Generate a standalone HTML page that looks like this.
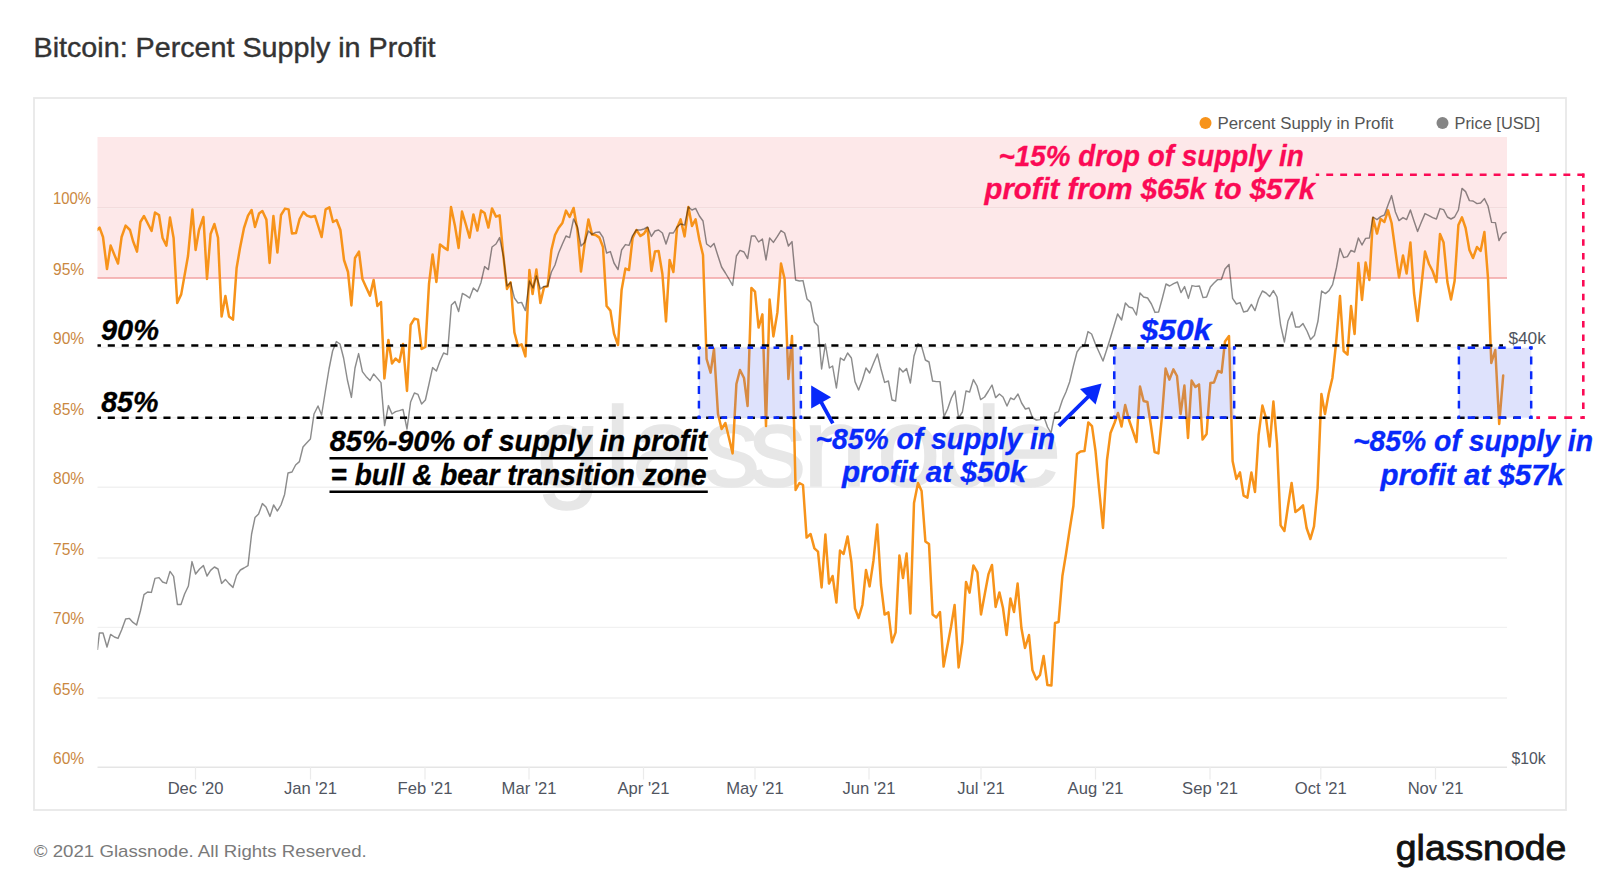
<!DOCTYPE html>
<html lang="en"><head><meta charset="utf-8"><title>Bitcoin: Percent Supply in Profit</title>
<style>html,body{margin:0;padding:0;background:#fff}body{width:1600px;height:882px;position:relative;overflow:hidden;font-family:"Liberation Sans",sans-serif}</style></head>
<body>
<svg width="1600" height="882" viewBox="0 0 1600 882" style="position:absolute;left:0;top:0;font-family:'Liberation Sans', sans-serif">
<defs><clipPath id="plot"><rect x="97.5" y="100" width="1440" height="700"/></clipPath></defs>
<defs><clipPath id="crv"><rect x="1580" y="173.45" width="8" height="246"/></clipPath></defs>
<rect x="34" y="98" width="1532" height="712" fill="#fff" stroke="#e8e8e8" stroke-width="1.8"/>
<rect x="97.5" y="137" width="1409.5" height="141" fill="#fde8e9"/>
<line x1="97.5" x2="1507" y1="207.6" y2="207.6" stroke="#f1f1f1" stroke-width="1.4"/>
<line x1="97.5" x2="1507" y1="347.5" y2="347.5" stroke="#f1f1f1" stroke-width="1.4"/>
<line x1="97.5" x2="1507" y1="417.7" y2="417.7" stroke="#f1f1f1" stroke-width="1.4"/>
<line x1="97.5" x2="1507" y1="487.3" y2="487.3" stroke="#f1f1f1" stroke-width="1.4"/>
<line x1="97.5" x2="1507" y1="558.0" y2="558.0" stroke="#f1f1f1" stroke-width="1.4"/>
<line x1="97.5" x2="1507" y1="627.4" y2="627.4" stroke="#f1f1f1" stroke-width="1.4"/>
<line x1="97.5" x2="1507" y1="698.0" y2="698.0" stroke="#f1f1f1" stroke-width="1.4"/>
<line x1="97.5" x2="1507" y1="207.5" y2="207.5" stroke="#f3dcdd" stroke-width="1.2"/>
<line x1="97.5" x2="1507" y1="767.3" y2="767.3" stroke="#e5e5e5" stroke-width="1.4"/>
<line x1="195.5" x2="195.5" y1="767" y2="779.5" stroke="#ebebeb" stroke-width="1.2"/>
<line x1="310.5" x2="310.5" y1="767" y2="779.5" stroke="#ebebeb" stroke-width="1.2"/>
<line x1="425" x2="425" y1="767" y2="779.5" stroke="#ebebeb" stroke-width="1.2"/>
<line x1="529" x2="529" y1="767" y2="779.5" stroke="#ebebeb" stroke-width="1.2"/>
<line x1="643.5" x2="643.5" y1="767" y2="779.5" stroke="#ebebeb" stroke-width="1.2"/>
<line x1="755" x2="755" y1="767" y2="779.5" stroke="#ebebeb" stroke-width="1.2"/>
<line x1="869" x2="869" y1="767" y2="779.5" stroke="#ebebeb" stroke-width="1.2"/>
<line x1="981" x2="981" y1="767" y2="779.5" stroke="#ebebeb" stroke-width="1.2"/>
<line x1="1095.5" x2="1095.5" y1="767" y2="779.5" stroke="#ebebeb" stroke-width="1.2"/>
<line x1="1210" x2="1210" y1="767" y2="779.5" stroke="#ebebeb" stroke-width="1.2"/>
<line x1="1320.8" x2="1320.8" y1="767" y2="779.5" stroke="#ebebeb" stroke-width="1.2"/>
<line x1="1435.5" x2="1435.5" y1="767" y2="779.5" stroke="#ebebeb" stroke-width="1.2"/>
<text y="486" font-size="114" fill="#e7e7e7" stroke="#e7e7e7" stroke-width="1.6" x="536.5 605 632 703 749 803 877 938 998">glassnode</text>
<line x1="97.5" x2="1507" y1="278" y2="278" stroke="#f2a3a3" stroke-width="1.6"/>
<path d="M97,230 L99.6,227.6 L103,237 L107,269 L110.6,245.6 L118,263.6 L121.6,237 L125.6,225.6 L130,230 L133,241 L137,251.6 L140.4,222 L144,216 L151.6,231 L155,212.6 L159,215 L162.6,238 L166.4,245.6 L170,217.6 L173.6,238 L177.2,303 L181.2,294.4 L188,256 L192.4,209.6 L195.6,250 L199,230 L203.4,217 L207,279 L210.6,234 L214.4,224 L218,237.6 L221.6,316.4 L225.4,296 L229,316.4 L233,319.6 L236.6,268 L240,248 L244,228 L248,215.6 L251.6,210 L255,227 L259,213.6 L262.4,211 L266.4,219.6 L269.6,263 L273.4,216 L277.4,252.6 L281,215 L285,208.6 L288.6,209.4 L292,233.6 L296,233 L299.6,219 L303.4,212 L307,215.6 L311,217 L315,216 L321.6,237 L325.6,209.4 L329.4,207.4 L333,222 L336.6,220 L340.4,230 L344,260 L348,272 L351.4,305.4 L355,258 L359,251.6 L362.4,279 L366,287 L370,295.6 L373.6,280 L377.4,306 L381,302 L384.4,378.4 L388.4,340 L392,363.6 L395.6,358.6 L399.4,362 L403,344 L407,391 L410.6,325 L414.4,318.6 L418,319.6 L421.6,349 L425.4,347 L429,284 L432.6,254.4 L436.4,282 L440,244.4 L444,247.6 L447.6,250 L451,207 L455,226 L458.6,248 L462,211.6 L466,225 L469.6,237.6 L473.4,214.4 L477.4,230.6 L481,210.6 L484.6,213 L488.4,227.6 L492,208.4 L496,216.6 L499.6,215.4 L503.4,256 L507,289 L510.6,282.4 L514.4,332.4 L518,346 L521.6,344.4 L525.4,356.4 L529.4,270 L532.6,294 L536.4,269.6 L540.4,303 L544,287.4 L547.6,286.4 L551.4,250 L555,235 L558.6,228 L562.4,223 L566,210.6 L569.6,217 L573.6,208 L577.4,230 L581,271.6 L584.6,244 L588.4,219.4 L592,234.4 L595.6,235 L599.4,237.6 L603,247 L606.6,306 L610.4,310.6 L614,333.6 L618,345 L621.6,290 L625.4,268.6 L629,270 L632.6,238 L636.4,230 L640.4,236 L644,233.6 L647.6,228 L651.4,271 L655,251.6 L658.6,251 L662.4,274 L666,321.4 L669.6,260 L673.4,272 L677,228 L680.6,219.4 L684.6,236.4 L688.4,207 L692,226 L695.6,219.4 L699.4,240 L703,255 L706.6,359 L710.6,372.6 L714,349 L718,414 L721.6,429 L725.4,423 L729,438 L732.6,453.4 L736.4,384 L740,370 L744,378 L747.6,406 L751.4,288 L755,291.6 L758.6,327.6 L762.4,314.4 L766,426 L769.6,299.6 L773.4,336.4 L777.4,312.4 L781,263.6 L784.6,279 L788.4,379 L792,336 L795.6,490 L799.4,483 L803,485 L806.6,537.6 L810.6,534 L814.4,548.4 L818,551.6 L821.6,587.4 L825.4,534.6 L829,583.6 L832.6,576 L836.4,602.6 L840,550.6 L843.6,554 L847.6,536.4 L851.4,562 L855,608.4 L858.6,618 L862.4,605 L866,570 L869.6,586.4 L873.4,561 L877.2,524.4 L881,585 L884.6,614.6 L888.4,612.4 L892,642.4 L895.6,632.4 L899.4,555.6 L903,578 L906.6,553.6 L910.4,613.4 L914,503 L918,483 L921.6,491 L925.4,541.4 L929,544 L932.6,614.4 L936.4,617.4 L940,612 L943.6,666.6 L947.4,646 L951,627 L954.6,605 L958.6,667.4 L962.4,642 L966,582 L969.6,592.6 L973.4,565.4 L977.4,572.4 L981,614.4 L984.6,595 L988.4,574.4 L992,565 L995.6,607 L999.4,592.4 L1003,608 L1006.6,635 L1010.4,598.4 L1014,612 L1017.6,583.6 L1021.4,628 L1025,648 L1029,635 L1032.4,670 L1036.4,679.4 L1040,675 L1043.6,656 L1047.4,685 L1051.4,685.6 L1055,623 L1058.6,622 L1062.4,576 L1066,554 L1069.6,530 L1073.4,506 L1077,454 L1080.5,451.5 L1084.5,451 L1088.3,422.5 L1092,426.2 L1095.5,451 L1099,488 L1103,528 L1107,460 L1110.5,433 L1114.5,423 L1118,413 L1121.5,426.5 L1125.2,405 L1129,420 L1132.5,430 L1136.5,442 L1140,386.6 L1143.6,401 L1147.4,402 L1151,426 L1154.6,452 L1158.4,453.4 L1162,416 L1165.6,368.6 L1169.4,379.6 L1173.4,369.4 L1177,376 L1180.6,414 L1184.4,385.6 L1188,438 L1191.6,380.6 L1195.4,387 L1199,384.4 L1202.6,439.6 L1206.6,434 L1210.4,383 L1214,382.4 L1218,371 L1221.6,372.6 L1225,341.4 L1229,336 L1232.6,461 L1236.4,479 L1240,472.4 L1243.6,495.6 L1247.4,497.6 L1251.4,472.4 L1255,492 L1258.6,435 L1262.4,405.6 L1266,418 L1269.6,446.6 L1273.4,401.6 L1277,443.6 L1280.6,525.4 L1284.4,531 L1288,506 L1291.6,483 L1295.4,512 L1299.4,509 L1303,505.4 L1306.6,528 L1310.4,539 L1314,526.4 L1317.6,488 L1321.4,394 L1325,414 L1328.6,394 L1332.4,378 L1336,344 L1340,296 L1343.6,351 L1347.5,354.6 L1351,306 L1354.6,334 L1358.4,263 L1362,300 L1365.6,262.6 L1369.4,280 L1373,218 L1377,233.6 L1380.6,219 L1384.4,222 L1388,210.4 L1391.6,223 L1395.4,251 L1399,277.4 L1403,255.6 L1406.6,273.6 L1410.4,242.4 L1414,293 L1417.6,321 L1421.4,286 L1425,251.6 L1429,264 L1432.6,271 L1436.4,282 L1440,234 L1443.6,242.6 L1447.4,282 L1451,299.6 L1454.6,281 L1458.4,225 L1462,217.4 L1465.6,228 L1469.4,250 L1473,258 L1477,247 L1480.6,251 L1484.4,232 L1488,278 L1491.3,363 L1495.3,350 L1499.2,424 L1503.2,375.5" fill="none" stroke="#f7931a" stroke-width="2.5" stroke-linejoin="round" stroke-linecap="round" clip-path="url(#plot)"/>
<path d="M97.4,650 L99.4,633 L103,633 L107,647 L110.6,634.4 L114.4,637 L118,638.4 L121.6,630 L125.6,619 L129.4,618.4 L133,622.4 L136.6,625 L140.4,611 L144,594.6 L147.6,592 L151.4,592.4 L155,578.4 L159,577.6 L162.6,582 L166.4,583.4 L170,571.4 L173.6,576.4 L177.4,604.4 L181,604.4 L184.6,594 L188.4,586 L192,561.6 L195.6,574 L199.6,569 L203.4,565.6 L207,576 L210.6,570.4 L214.4,567 L218,569 L221.6,583.4 L225.4,579.4 L229,583.6 L233,587.4 L236.6,575.4 L240.4,570 L244,568 L248,565.6 L251.6,534 L255,517.6 L258.6,514 L262.4,503.6 L266,507 L270,516.4 L273.6,505 L277.4,511 L281,505 L284.6,494.4 L288,473 L292,472 L295.6,465 L299.4,461.6 L303,447 L306.6,443 L310.4,439 L314,414 L318,406 L321.6,415 L325.4,391 L329,369 L332.6,351 L336.4,341.6 L340,344 L343.6,358 L347.4,380 L351.4,397.4 L355,368 L358.6,353.6 L362.4,371.6 L366,376.4 L370,380.6 L373.6,374 L377.4,378.4 L381,382.6 L384.6,425.6 L388.4,405.6 L392,414 L395.6,411.6 L399.4,410.6 L403,409.4 L407,429 L410.6,402 L414.4,393 L418,394.4 L421.6,404 L425.4,400 L429,384 L432.6,367.6 L436.4,371 L440,361 L443.6,353 L447.4,354.6 L451.4,305 L455,301.6 L458.6,311.6 L462.4,293.4 L466,295.4 L469.6,298 L473.4,288 L477.4,291.6 L481,282.4 L484.6,266.6 L488.4,269.6 L492,247 L496,244 L499.6,237.6 L503.4,256 L507,286 L510.6,282.4 L514.4,298 L518,303 L521.6,302.4 L525.4,310.6 L529.4,281 L533,288 L536.4,276 L540.4,289 L544,286.4 L547.6,286 L551.4,272 L555,265 L558.6,253 L562.4,244 L566,236 L569.6,237.6 L573.6,219 L577.4,227 L581,246 L584.6,242.4 L588.4,231 L592,234.4 L595.6,232.4 L599.4,232 L603,237.4 L606.6,253 L610.4,251.6 L614,263 L618,269.6 L621.6,250 L625.4,244.6 L629,245.4 L632.6,235.6 L636.4,230 L640.4,230 L644,229 L647.6,227 L651.4,236.4 L655,231 L658.6,230 L662.4,233 L666,244 L669.6,233 L673.4,233 L677,227 L680.6,224 L684.6,225 L688.4,207 L692,210 L695.6,208.4 L699.4,216 L703,221 L706.6,244 L710.6,247 L714,243.4 L718,256 L721.6,267 L725.4,273 L729,279 L732.6,285.4 L736.4,256 L740,250.4 L744,252 L747.6,258.6 L751.4,236 L755,236 L758.6,242 L762.4,239 L766,260 L769.6,238 L773.4,242.4 L777.4,236.4 L781,230.6 L784.6,233 L788.4,246 L792,241.6 L795.6,280 L799.4,281 L803,280.6 L807,299 L810.6,302.4 L814.4,322 L818,326 L821.6,369 L825.4,344 L829.4,368 L832.6,366 L836.4,388 L840.4,358 L844,360.4 L847.6,353 L851.4,358 L855,381.6 L858.6,390 L862.4,380 L866,368 L869.6,373 L873.6,363 L877.4,354 L881,369 L884.6,382.4 L888.4,381 L892,400 L895.6,401 L899.4,368 L903,372 L906.6,368.6 L910.4,383 L914,356 L918,343.6 L921.6,346.4 L925.4,360 L929,362 L932.6,381 L936.4,381.6 L940,381.6 L944,416.6 L947.6,409 L951.4,398 L955,391 L958.6,418 L962.4,412 L966,391 L969.6,392 L973.4,379.6 L977,386 L980.6,399.6 L984.6,397 L988.4,391 L992,385 L995.6,397.6 L999.4,394 L1003,397 L1007,406 L1010.6,398 L1014,399.6 L1018,394 L1021.6,403 L1025.4,409 L1029,408 L1032.6,418 L1036.4,420 L1040,419.6 L1044,417 L1047.5,427 L1051,433 L1055,413 L1058.6,411.6 L1062.4,400 L1066,392 L1069.6,382 L1073.4,366 L1077,352 L1080.6,347 L1084.4,346 L1088,331.6 L1091.6,334 L1095.4,344 L1099,352 L1103,361 L1106.6,350 L1110.4,338 L1114,326 L1117.6,314 L1121.6,320 L1125.4,303 L1129,307 L1132.6,308 L1136.4,315 L1140,293 L1143.6,297 L1147.6,298 L1151.4,304 L1155,312.4 L1158.6,312 L1162.4,298 L1166,284 L1169.6,286 L1173.6,283.6 L1177.4,282 L1181,292.6 L1184.6,286.6 L1188.4,298.4 L1192,285.6 L1195.6,286.4 L1199.4,286 L1203,297.6 L1206.6,297 L1210.4,287 L1214,283 L1217.6,279.6 L1221.4,279.6 L1225,269 L1229,264.4 L1232.6,298.4 L1236.4,304 L1240,302.6 L1243.6,312 L1247.4,311 L1251.4,304.4 L1255,310.6 L1258.6,299 L1262.4,291 L1266,293 L1269.6,296.6 L1273.4,290.6 L1277,297 L1280.6,325 L1284.4,342 L1288,321 L1292,312 L1295.6,327 L1299.4,327 L1303,323.6 L1307,331 L1310.6,339.6 L1314.4,335.6 L1318,321 L1321.6,291 L1325.4,293.6 L1329,290.6 L1332.6,284.6 L1336.4,268 L1340,248.4 L1343.6,257.6 L1347.4,256.6 L1351,250.4 L1354.6,252 L1358.4,238 L1362,245 L1365.6,238.4 L1369.4,238 L1373,217 L1377,219.6 L1380.6,216.6 L1384.4,215 L1388,205 L1391.6,195.6 L1395.4,212 L1399,220.6 L1403,217.6 L1406.6,219.6 L1410.4,210 L1414,221 L1417.6,231.4 L1421.4,222 L1425,213.6 L1429,215.6 L1432.6,217.6 L1436.4,219 L1440,208.6 L1443.6,209.6 L1447.4,217 L1451,219 L1454.6,217 L1458.4,210 L1462,188.4 L1465.6,191.6 L1469.4,200.6 L1473,201 L1477,203.6 L1480.6,203 L1484.4,198.6 L1488,206 L1491.6,222.4 L1495.4,222.6 L1499,240.6 L1502.6,234 L1506.6,232" fill="none" stroke="rgba(0,0,0,0.45)" stroke-width="1.45" stroke-linejoin="round" clip-path="url(#plot)"/>
<text x="53" y="204.4" font-size="15.7" fill="#ca883f" textLength="38" lengthAdjust="spacingAndGlyphs">100%</text>
<text x="53" y="274.6" font-size="15.7" fill="#ca883f" textLength="31.2" lengthAdjust="spacingAndGlyphs">95%</text>
<text x="53" y="344.3" font-size="15.7" fill="#ca883f" textLength="31.2" lengthAdjust="spacingAndGlyphs">90%</text>
<text x="53" y="414.5" font-size="15.7" fill="#ca883f" textLength="31.2" lengthAdjust="spacingAndGlyphs">85%</text>
<text x="53" y="484.1" font-size="15.7" fill="#ca883f" textLength="31.2" lengthAdjust="spacingAndGlyphs">80%</text>
<text x="53" y="554.8" font-size="15.7" fill="#ca883f" textLength="31.2" lengthAdjust="spacingAndGlyphs">75%</text>
<text x="53" y="624.2" font-size="15.7" fill="#ca883f" textLength="31.2" lengthAdjust="spacingAndGlyphs">70%</text>
<text x="53" y="694.8" font-size="15.7" fill="#ca883f" textLength="31.2" lengthAdjust="spacingAndGlyphs">65%</text>
<text x="53" y="764.1" font-size="15.7" fill="#ca883f" textLength="31.2" lengthAdjust="spacingAndGlyphs">60%</text>
<text x="195.5" y="793.5" font-size="16.6" fill="#50555f" text-anchor="middle">Dec '20</text>
<text x="310.5" y="793.5" font-size="16.6" fill="#50555f" text-anchor="middle">Jan '21</text>
<text x="425" y="793.5" font-size="16.6" fill="#50555f" text-anchor="middle">Feb '21</text>
<text x="529" y="793.5" font-size="16.6" fill="#50555f" text-anchor="middle">Mar '21</text>
<text x="643.5" y="793.5" font-size="16.6" fill="#50555f" text-anchor="middle">Apr '21</text>
<text x="755" y="793.5" font-size="16.6" fill="#50555f" text-anchor="middle">May '21</text>
<text x="869" y="793.5" font-size="16.6" fill="#50555f" text-anchor="middle">Jun '21</text>
<text x="981" y="793.5" font-size="16.6" fill="#50555f" text-anchor="middle">Jul '21</text>
<text x="1095.5" y="793.5" font-size="16.6" fill="#50555f" text-anchor="middle">Aug '21</text>
<text x="1210" y="793.5" font-size="16.6" fill="#50555f" text-anchor="middle">Sep '21</text>
<text x="1320.8" y="793.5" font-size="16.6" fill="#50555f" text-anchor="middle">Oct '21</text>
<text x="1435.5" y="793.5" font-size="16.6" fill="#50555f" text-anchor="middle">Nov '21</text>
<text x="1508.4" y="344.4" font-size="16.2" fill="#50555f" textLength="37.5" lengthAdjust="spacingAndGlyphs">$40k</text>
<text x="1511.5" y="764.3" font-size="16.2" fill="#50555f" textLength="34.2" lengthAdjust="spacingAndGlyphs">$10k</text>
<circle cx="1205.5" cy="123" r="6" fill="#f7931a"/>
<text x="1217.5" y="128.5" font-size="16" fill="#555" textLength="176" lengthAdjust="spacingAndGlyphs">Percent Supply in Profit</text>
<circle cx="1442.5" cy="123" r="6" fill="#858585"/>
<text x="1454.5" y="128.5" font-size="16" fill="#555" textLength="85.5" lengthAdjust="spacingAndGlyphs">Price [USD]</text>
<line x1="93.85" x2="1503" y1="345.6" y2="345.6" stroke="#000" stroke-width="2.5" stroke-dasharray="7.1 6.815" clip-path="url(#plot)"/>
<line x1="93.85" x2="1520" y1="417.7" y2="417.7" stroke="#000" stroke-width="2.5" stroke-dasharray="7.1 6.815" clip-path="url(#plot)"/>
<clipPath id="bx0"><rect x="697.45" y="346.35" width="104.9" height="72.7"/></clipPath>
<rect x="698.8" y="347.7" width="102.2" height="70" fill="rgba(90,110,240,0.2)"/>
<g clip-path="url(#bx0)" fill="none" stroke="#0829fa" stroke-width="2.7"><path d="M695.26,347.7 H804 M695.26,417.7 H804" stroke-dasharray="5.7 7.34"/><path d="M698.8,341.9 V420 M801,341.9 V420" stroke-dasharray="7.9 6.8"/></g>
<clipPath id="bx1"><rect x="1112.85" y="346.35" width="122.8" height="72.7"/></clipPath>
<rect x="1114.2" y="347.7" width="120.1" height="70" fill="rgba(90,110,240,0.2)"/>
<g clip-path="url(#bx1)" fill="none" stroke="#0829fa" stroke-width="2.7"><path d="M1109.7,347.7 H1237.3 M1109.7,417.7 H1237.3" stroke-dasharray="6.9 6.85"/><path d="M1114.2,341.9 V420 M1234.3,341.9 V420" stroke-dasharray="7.9 6.8"/></g>
<clipPath id="bx2"><rect x="1457.45" y="346.35" width="75.2" height="72.7"/></clipPath>
<rect x="1458.8" y="347.7" width="72.5" height="70" fill="rgba(90,110,240,0.2)"/>
<g clip-path="url(#bx2)" fill="none" stroke="#0829fa" stroke-width="2.7"><path d="M1452.4,347.7 H1534.3 M1452.4,417.7 H1534.3" stroke-dasharray="7.4 7.9"/><path d="M1458.8,341.9 V420 M1531.3,341.9 V420" stroke-dasharray="7.9 6.8"/></g>
<g fill="none" stroke="#fb0a55" stroke-width="2.6"><path d="M1315.75,174.75 H1584.6" stroke-dasharray="6.9 7.05" stroke-dashoffset="3.45"/><path d="M1583.3,171.3 V418.9" stroke-dasharray="6.5 7.1" clip-path="url(#crv)"/><path d="M1536.3,417.6 H1584.6" stroke-dasharray="7.9 8.15" stroke-dashoffset="4.15"/></g>
<path d="M832.8,423.4 L820.8,401.5" stroke="#0829fa" stroke-width="3.7" fill="none"/><path d="M811.2,385.6 L831.1,397.3 L811.2,408.6 Z" fill="#0829fa"/>
<path d="M1058.8,425.8 L1089,396" stroke="#0829fa" stroke-width="3.8" fill="none"/><path d="M1101.6,383.4 L1080,389 L1095.6,404.6 Z" fill="#0829fa"/>
<text x="101" y="339.9" font-size="28.9" font-weight="bold" font-style="italic" fill="#000" stroke="#000" stroke-width="0.3" stroke-linejoin="round" textLength="58" lengthAdjust="spacingAndGlyphs">90%</text>
<text x="101.2" y="412.3" font-size="28.9" font-weight="bold" font-style="italic" fill="#000" stroke="#000" stroke-width="0.3" stroke-linejoin="round" textLength="57.3" lengthAdjust="spacingAndGlyphs">85%</text>
<text x="329.8" y="451" font-size="28.9" font-weight="bold" font-style="italic" fill="#000" stroke="#000" stroke-width="0.3" stroke-linejoin="round" textLength="377.3" lengthAdjust="spacingAndGlyphs">85%-90% of supply in profit</text>
<text x="330.5" y="484.5" font-size="28.9" font-weight="bold" font-style="italic" fill="#000" stroke="#000" stroke-width="0.3" stroke-linejoin="round" textLength="376" lengthAdjust="spacingAndGlyphs">= bull &amp; bear transition zone</text>
<line x1="329.5" x2="707.8" y1="458.25" y2="458.25" stroke="#000" stroke-width="2.5"/>
<line x1="329.5" x2="707.8" y1="491.75" y2="491.75" stroke="#000" stroke-width="2.5"/>
<text x="815.5" y="449" font-size="28.9" font-weight="bold" font-style="italic" fill="#0829fa" stroke="#0829fa" stroke-width="0.3" stroke-linejoin="round" textLength="239.5" lengthAdjust="spacingAndGlyphs">~85% of supply in</text>
<text x="842" y="482" font-size="28.9" font-weight="bold" font-style="italic" fill="#0829fa" stroke="#0829fa" stroke-width="0.3" stroke-linejoin="round" textLength="184.3" lengthAdjust="spacingAndGlyphs">profit at $50k</text>
<text x="1140.6" y="339.75" font-size="28.9" font-weight="bold" font-style="italic" fill="#0829fa" stroke="#0829fa" stroke-width="0.3" stroke-linejoin="round" textLength="70.6" lengthAdjust="spacingAndGlyphs">$50k</text>
<text x="1353" y="451.2" font-size="28.9" font-weight="bold" font-style="italic" fill="#0829fa" stroke="#0829fa" stroke-width="0.3" stroke-linejoin="round" textLength="240" lengthAdjust="spacingAndGlyphs">~85% of supply in</text>
<text x="1380.5" y="484.5" font-size="28.9" font-weight="bold" font-style="italic" fill="#0829fa" stroke="#0829fa" stroke-width="0.3" stroke-linejoin="round" textLength="183.5" lengthAdjust="spacingAndGlyphs">profit at $57k</text>
<text x="998.5" y="165.5" font-size="28.9" font-weight="bold" font-style="italic" fill="#fb0a55" stroke="#fb0a55" stroke-width="0.3" stroke-linejoin="round" textLength="305.3" lengthAdjust="spacingAndGlyphs">~15% drop of supply in</text>
<text x="984.5" y="198.5" font-size="28.9" font-weight="bold" font-style="italic" fill="#fb0a55" stroke="#fb0a55" stroke-width="0.3" stroke-linejoin="round" textLength="330.5" lengthAdjust="spacingAndGlyphs">profit from $65k to $57k</text>
<text x="33.5" y="57.2" font-size="27.4" fill="#333" stroke="#333" stroke-width="0.4" textLength="402" lengthAdjust="spacingAndGlyphs">Bitcoin: Percent Supply in Profit</text>
<text x="33.8" y="857" font-size="17" fill="#7a7a7a" textLength="333" lengthAdjust="spacingAndGlyphs">© 2021 Glassnode. All Rights Reserved.</text>
<text x="1395.8" y="859.6" font-size="34.3" fill="#111" stroke="#111" stroke-width="0.8" textLength="170.5" lengthAdjust="spacingAndGlyphs">glassnode</text>
</svg>
</body></html>
